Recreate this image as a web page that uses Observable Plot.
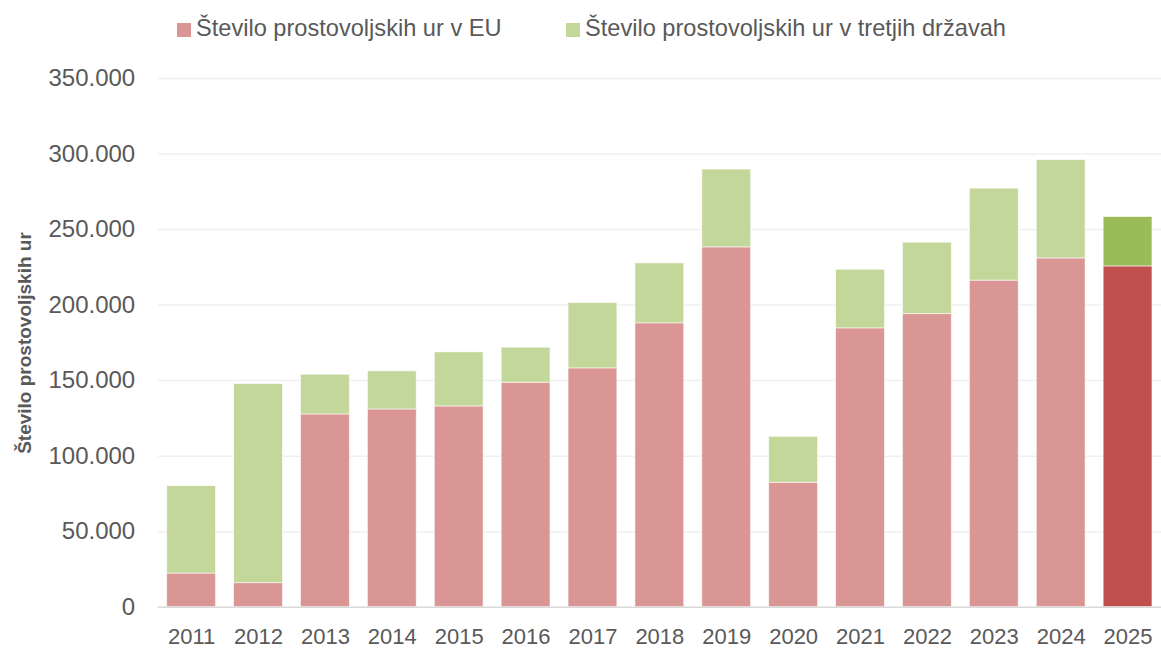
<!DOCTYPE html>
<html>
<head>
<meta charset="utf-8">
<script src="https://cdn.jsdelivr.net/npm/d3@7"></script>
<script src="https://cdn.jsdelivr.net/npm/@observablehq/plot@0.6"></script>
<style>
  body { margin: 0; background: #fff; font-family: "Liberation Sans", Arial, sans-serif; }
  #wrap { position: relative; width: 1161px; height: 648px; overflow: hidden; }
  #wrap svg { position: absolute; left: 0; top: 0; }
  .sw { position: absolute; top: 23px; width: 14px; height: 14px; }
  .lt { position: absolute; top: 17px; font-size: 23.6px; line-height: 23px; color: #595959; white-space: nowrap; }
</style>
</head>
<body>
<div id="wrap"></div>
<script>
const years = ["2011","2012","2013","2014","2015","2016","2017","2018","2019","2020","2021","2022","2023","2024","2025"];
const euHours = [22300, 15900, 127600, 130900, 132900, 148600, 158100, 187900, 238200, 82400, 184600, 194000, 216200, 230900, 225600];
const thirdHours = [57800, 131800, 26300, 25200, 35800, 23200, 43200, 39700, 51500, 30400, 38800, 47300, 60900, 65100, 32700];
const seriesNames = ["Število prostovoljskih ur v EU", "Število prostovoljskih ur v tretjih državah"];
const yTicks = [0, 50000, 100000, 150000, 200000, 250000, 300000, 350000];
const yTitle = "Število prostovoljskih ur";
const highlightYear = "2025";

const colEU = "#D99694", colEUHi = "#C0504D";
const colTh = "#C4D79B", colThHi = "#9BBB59";

const rows = [];
years.forEach((y, i) => rows.push({year: y, series: seriesNames[0], value: euHours[i], color: y === highlightYear ? colEUHi : colEU}));
years.forEach((y, i) => rows.push({year: y, series: seriesNames[1], value: thirdHours[i], color: y === highlightYear ? colThHi : colTh}));

const fmt = d3.formatLocale({decimal: ",", thousands: ".", grouping: [3], currency: ["", "€"]}).format(",");

const chart = Plot.plot({
  width: 1161,
  height: 648,
  marginTop: 78,
  marginBottom: 41.3,
  marginLeft: 157.7,
  marginRight: 0,
  style: {fontFamily: "'Liberation Sans', Arial, sans-serif", fontSize: "22px", color: "#595959", background: "transparent"},
  x: {domain: years, round: false, paddingInner: 0.27, paddingOuter: 0.135, tickSize: 0, tickPadding: 21, label: null},
  y: {domain: [0, 350000], ticks: yTicks, tickFormat: fmt, tickSize: 0, tickPadding: 23, label: null},
  color: {type: "identity"},
  marks: [
    Plot.ruleY(yTicks.filter(d => d > 0), {stroke: "#F0F0F0", strokeWidth: 1.5}),
    Plot.barY(rows, {x: "year", y: "value", fill: "color", stroke: "#ffffff", strokeWidth: 0.8, strokeOpacity: 0.7, order: null}),
    Plot.ruleY([0], {stroke: "#D9D9D9", strokeWidth: 1.5})
  ]
});

const svg = d3.select(chart);
svg.selectAll("text").attr("fill", "#595959");
svg.selectAll("[aria-label='y-axis tick label'] text, [aria-label='y-axis'] text").attr("font-size", 24);
svg.selectAll("[aria-label='y-axis tick label']").attr("font-size", 24);
svg.append("text")
  .attr("transform", "translate(26,343) rotate(-90)")
  .attr("text-anchor", "middle")
  .attr("dominant-baseline", "middle")
  .attr("font-family", "'Liberation Sans', Arial, sans-serif")
  .attr("font-size", 19)
  .attr("font-weight", "bold")
  .attr("fill", "#595959")
  .text(yTitle);

const wrap = document.getElementById("wrap");
wrap.appendChild(chart);

const legendPos = [177, 566];
seriesNames.forEach((name, i) => {
  const sw = document.createElement("div");
  sw.className = "sw";
  sw.style.left = legendPos[i] + "px";
  sw.style.background = i === 0 ? colEU : colTh;
  wrap.appendChild(sw);
  const t = document.createElement("div");
  t.className = "lt";
  t.style.left = (legendPos[i] + 19) + "px";
  t.textContent = name;
  wrap.appendChild(t);
});
</script>
</body>
</html>
